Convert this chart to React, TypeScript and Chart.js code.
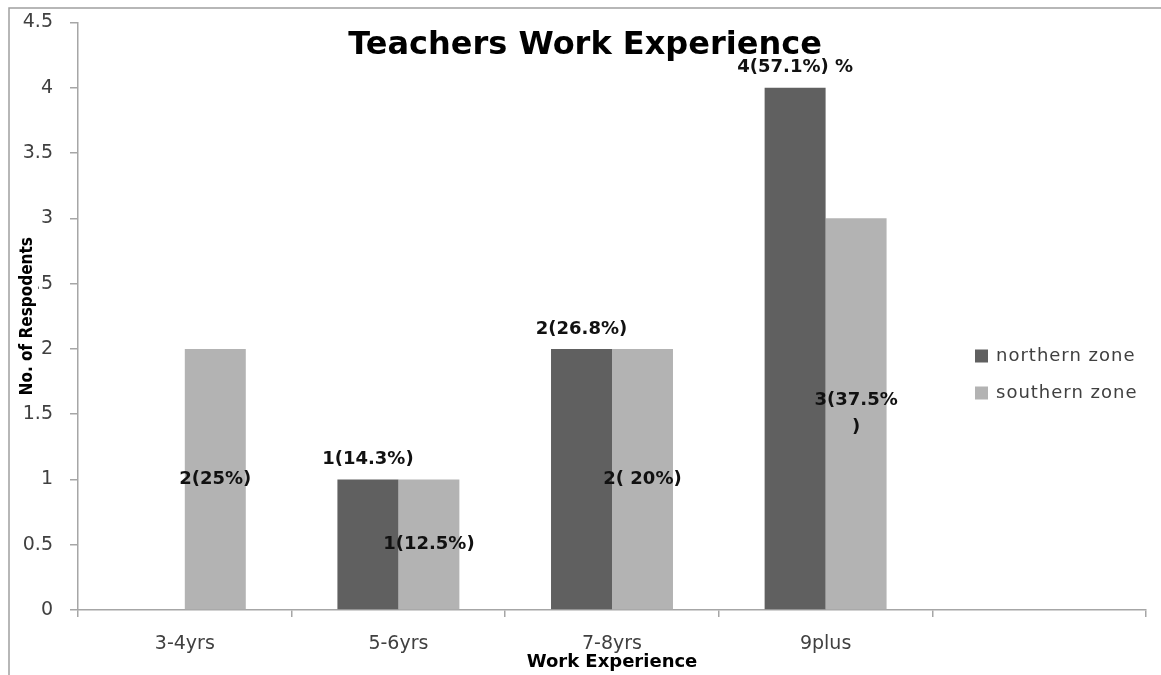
import React, { useEffect, useRef } from "react";
import { Chart, registerables } from "chart.js";

Chart.register(...registerables);

const categories = ["3-4yrs", "5-6yrs", "7-8yrs", "9plus", ""];
const northernZone = [0, 1, 2, 4, null];
const southernZone = [2, 1, 2, 3, null];
const northernLabels = [[""], ["1(14.3%)"], ["2(26.8%)"], ["4(57.1%) %"], [""]];
const southernLabels = [["2(25%)"], ["1(12.5%)"], ["2( 20%)"], ["3(37.5%", ")"], [""]];
const seriesNames = ["northern zone", "southern zone"];
const seriesColors = ["#606060", "#b3b3b3"];
const yTicks = [0, 0.5, 1, 1.5, 2, 2.5, 3, 3.5, 4, 4.5];

const titleText = "Teachers Work Experience";
const xTitle = "Work Experience";
const yTitle = "No. of Respodents";

const AXIS = "#a6a6a6";
const TICK_TEXT = "#404040";

const decorPlugin = {
  id: "decor",
  beforeDraw(chart: any) {
    const ctx = chart.ctx;
    ctx.save();
    ctx.fillStyle = "#ffffff";
    ctx.fillRect(0, 0, chart.width, chart.height);
    ctx.strokeStyle = "#a0a0a0";
    ctx.lineWidth = 1.5;
    ctx.beginPath();
    ctx.moveTo(9, chart.height);
    ctx.lineTo(9, 8);
    ctx.lineTo(chart.width, 8);
    ctx.stroke();
    ctx.restore();
  },
  afterDraw(chart: any) {
    const ctx = chart.ctx;
    const area = chart.chartArea;
    ctx.save();
    // title
    ctx.fillStyle = "#000000";
    ctx.font = "bold 32px 'DejaVu Sans'";
    ctx.textAlign = "center";
    ctx.textBaseline = "middle";
    ctx.fillText(titleText, (9 + chart.width) / 2, 46);
    // x title
    ctx.font = "bold 18px 'DejaVu Sans'";
    ctx.fillText(xTitle, (area.left + area.right) / 2, 662);
    // y title
    ctx.save();
    ctx.translate(28, (area.top + area.bottom) / 2);
    ctx.rotate(-Math.PI / 2);
    ctx.font = "bold 17px 'Liberation Sans Narrow', 'DejaVu Sans Condensed', sans-serif";
    const w = ctx.measureText(yTitle).width;
    ctx.fillStyle = "#ffffff";
    ctx.fillRect(-w / 2 - 2, -9, w + 4, 19);
    ctx.fillStyle = "#000000";
    ctx.fillText(yTitle, 0, 0);
    ctx.restore();
    // legend
    ctx.textAlign = "left";
    ctx.font = "18px 'DejaVu Sans'";
    (ctx as any).letterSpacing = "1px";
    seriesNames.forEach((name, i) => {
      const cy = 356 + i * 37;
      ctx.fillStyle = seriesColors[i];
      ctx.fillRect(975, cy - 6.5, 13, 13);
      ctx.fillStyle = TICK_TEXT;
      ctx.fillText(name, 996, cy);
    });
    (ctx as any).letterSpacing = "0px";
    ctx.restore();
  },
  afterDatasetsDraw(chart: any) {
    const ctx = chart.ctx;
    ctx.save();
    ctx.fillStyle = "#111111";
    ctx.font = "bold 18px 'DejaVu Sans'";
    ctx.textAlign = "center";
    ctx.textBaseline = "middle";
    const sets = [
      { labels: northernLabels, mode: "end" },
      { labels: southernLabels, mode: "center" },
    ];
    sets.forEach((s, di) => {
      const meta = chart.getDatasetMeta(di);
      meta.data.forEach((bar: any, j: number) => {
        const lines = s.labels[j];
        if (!lines || !lines[0]) return;
        const lh = 27;
        const cy = s.mode === "end" ? bar.y - 20 : (bar.y + bar.base) / 2;
        const startY = cy - ((lines.length - 1) * lh) / 2;
        lines.forEach((ln: string, k: number) => {
          ctx.fillText(ln, bar.x, startY + k * lh);
        });
      });
    });
    ctx.restore();
  },
};

export default function App() {
  const ref = useRef<HTMLCanvasElement>(null);
  useEffect(() => {
    if (!ref.current) return;
    const chart = new Chart(ref.current, {
      type: "bar",
      data: {
        labels: categories,
        datasets: [
          {
            label: seriesNames[0],
            data: northernZone,
            backgroundColor: seriesColors[0],
            borderWidth: 0,
            categoryPercentage: 0.571,
            barPercentage: 1,
          },
          {
            label: seriesNames[1],
            data: southernZone,
            backgroundColor: seriesColors[1],
            borderWidth: 0,
            categoryPercentage: 0.571,
            barPercentage: 1,
          },
        ],
      },
      options: {
        responsive: false,
        animation: false,
        layout: { padding: { top: 22.5, right: 15, left: 0, bottom: 0 } },
        plugins: {
          legend: { display: false },
          title: { display: false },
          tooltip: { enabled: false },
        },
        scales: {
          x: {
            type: "category",
            grid: {
              offset: true,
              drawOnChartArea: false,
              tickLength: 7,
              color: AXIS,
              lineWidth: 1.5,
            },
            border: { color: AXIS, width: 1.5 },
            ticks: {
              font: { family: "'DejaVu Sans'", size: 19 },
              color: TICK_TEXT,
              padding: 16,
              maxRotation: 0,
            },
            afterFit: (s: any) => {
              s.height = 65;
            },
          },
          y: {
            min: 0,
            max: 4.5,
            afterBuildTicks: (s: any) => {
              s.ticks = yTicks.map((v) => ({ value: v }));
            },
            grid: {
              drawOnChartArea: false,
              tickLength: 8,
              color: AXIS,
              lineWidth: 1.5,
            },
            border: { color: AXIS, width: 1.5 },
            ticks: {
              font: { family: "'DejaVu Sans'", size: 19 },
              color: TICK_TEXT,
              padding: 17,
              callback: (v: any) => String(v),
            },
            afterFit: (s: any) => {
              s.width = 78;
              s.paddingTop = 10;
              s.paddingBottom = 10;
            },
          },
        },
      },
      plugins: [decorPlugin],
    });
    return () => chart.destroy();
  }, []);
  return (
    <div style={{ position: "absolute", left: 0, top: 0, width: 1161, height: 675 }}>
      <canvas ref={ref} width={1161} height={675} />
    </div>
  );
}
